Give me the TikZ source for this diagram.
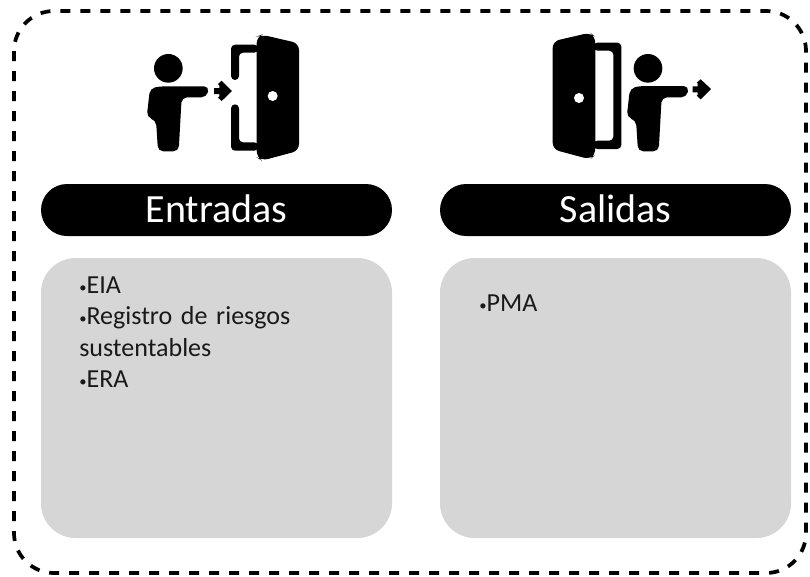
\documentclass[tikz,border=0pt]{standalone}
\usepackage{fontspec}
\setmainfont{Carlito}
\newcommand{\bul}{{\fontsize{11}{11}\selectfont\raisebox{1pt}{•}}}
\tikzset{
  pill/.style={fill=black,rounded corners=19.5pt,minimum width=263.25pt,minimum height=39pt,inner sep=0pt,text=white,font=\fontsize{30}{32}\selectfont},
  panel/.style={fill=black!16,rounded corners=26pt,inner sep=0pt},
  itemtext/.style={align=left,anchor=north west,inner sep=0pt,font=\fontsize{19.5}{23.6}\selectfont,text=black!90},
  outline/.style={draw=black,line width=2.8pt,dash pattern=on 7.5pt off 7.5pt,rounded corners=30pt},
  ink/.style={fill=black}
}
\begin{document}
\begin{tikzpicture}[x=0.75pt,y=-0.75pt]
\useasboundingbox (0,0) rectangle (810,576);
\draw[outline] (14,11) rectangle (806,573);
% Entry icon
\begin{scope}[x=0.25pt,y=-0.25pt,shift={(97.5pt,-15pt)}]
\fill (115,145) circle (43);
\fill[rounded corners=4pt] (90,199) -- (238,199) -- (230,232) -- (155,232) -- (146,394) -- (84,394) -- (78,300) -- (50,292) -- (60,205) -- cycle;
\fill (252,204) -- (268,204) -- (268,196) -- (264,192) -- (275,182) -- (306,213) -- (275,243) -- (264,233) -- (268,229) -- (268,222) -- (252,222) -- cycle;
\fill[rounded corners=3pt] (385,74) -- (303,74) -- (303,180) -- (327,180) -- (327,98) -- (385,98) -- cycle;
\fill[rounded corners=3pt] (385,367) -- (327,367) -- (327,253) -- (303,253) -- (303,392) -- (385,392) -- cycle;
\fill[rounded corners=5pt] (380,50) -- (395,44) -- (507,70) -- (507,392) -- (395,422) -- (380,412) -- cycle;
\fill[white] (428,228) circle (15);
\end{scope}
% Exit icon
\begin{scope}[x=0.25pt,y=-0.25pt,shift={(397.5pt,-15pt)}]
\fill[rounded corners=5pt] (68,64) -- (180,38) -- (196,50) -- (196,405) -- (180,418) -- (68,388) -- cycle;
\fill[white] (147,234) circle (15);
\fill[rounded corners=3pt] (190,68) -- (274,68) -- (274,387) -- (190,387) -- (190,362) -- (250,362) -- (250,92) -- (190,92) -- cycle;
\fill (354,145) circle (43);
\fill[rounded corners=4pt] (330,198) -- (477,198) -- (470,232) -- (395,232) -- (386,394) -- (324,394) -- (318,300) -- (290,292) -- (300,205) -- cycle;
\fill (488,199) -- (503,199) -- (503,190) -- (500,188) -- (512,178) -- (543,207) -- (512,238) -- (500,227) -- (503,224) -- (503,217) -- (488,217) -- cycle;
\end{scope}
\node[pill] (entradas) at (216.5,210) {\raisebox{2.2pt}{Entradas}};
\node[pill] (salidas) at (615.5,210) {\raisebox{2.2pt}{Salidas}};
\path[panel] (41,258) rectangle (392,538);
\path[panel] (440,258) rectangle (791,538);
\node[itemtext,text width=200pt] (lista1) at (79,276.5) {\bul EIA\\\bul Registro de riesgos\\sustentables\\\bul ERA};
\node[itemtext] (lista2) at (479,295) {\bul PMA};
\end{tikzpicture}
\end{document}
